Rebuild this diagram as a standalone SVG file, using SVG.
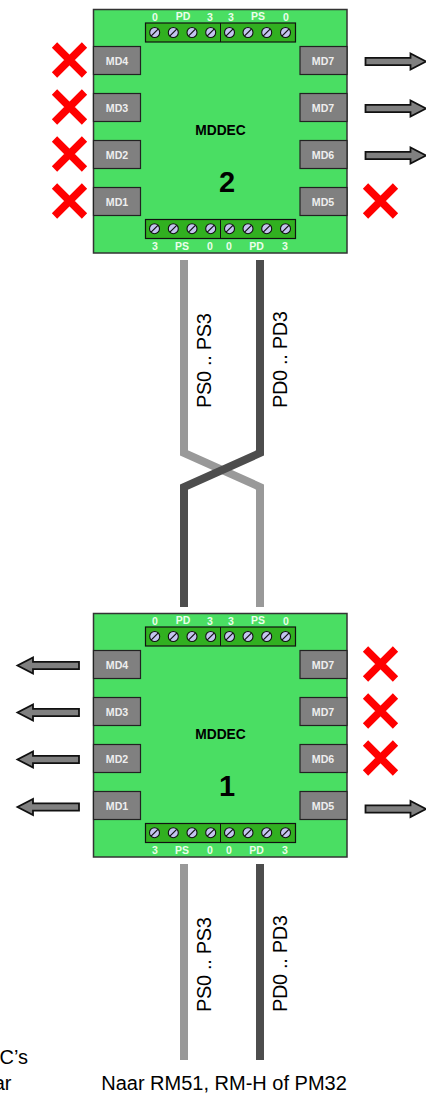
<svg xmlns="http://www.w3.org/2000/svg" width="426" height="1095" viewBox="0 0 426 1095">
<style>
text{font-family:"Liberation Sans",Arial,sans-serif}
.board{fill:#4ade63;stroke:#333;stroke-width:1.5}
.strip{fill:#31b020;stroke:#111;stroke-width:1.2}
.div{stroke:#111;stroke-width:1;fill:none}
.md{fill:#808080;stroke:#222;stroke-width:1.2}
.mdt{font-size:10.6px;font-weight:bold;fill:#eee;text-anchor:middle}
.pin{font-size:10.500px;font-weight:bold;fill:#eaffea;text-anchor:middle}
.title{font-size:13.8px;font-weight:bold;fill:#000;text-anchor:middle}
.num{font-size:29px;font-weight:bold;fill:#000;text-anchor:middle}
.wl{fill:none;stroke:#999;stroke-width:8}
.wd{fill:none;stroke:#4d4d4d;stroke-width:8}
.lab{font-size:20px;fill:#000}
.x{fill:none;stroke:#f00;stroke-width:7.5}
.ar{fill:#808080;stroke:#111;stroke-width:1.8}
</style>
<defs>
<g id="screw"><circle r="5" fill="#c4c4f0" stroke="#111" stroke-width="1.1"/><path d="M-3.4 3.4L3.4-3.4" stroke="#111" stroke-width="1.2"/></g>
<path id="cross" class="x" d="M-15-15L15 15M-15 15L15-15"/>
<path id="arr" class="ar" d="M0-3.7H45V-8L60.500 0L45 8V3.700H0Z"/>
<path id="arl" class="ar" d="M0-3.700H-46V-8L-61.500 0L-46 8V3.700H0Z"/>
</defs>
<g id="connectors">
<path class="wl" d="M184 260V453L260 487V607"/>
<path class="wd" d="M260 260V453L184 487V607"/>
<path class="wl" d="M184 864V1060"/>
<path class="wd" d="M260 864V1060"/>
</g>
<g id="mddec-2">
<rect class="board" x="93.500" y="9.500" width="253.500" height="243.500"/>
<rect class="strip" x="145.500" y="23" width="150" height="19"/><path class="div" d="M220.500 23V42"/>
<use href="#screw" x="154.700" y="32.500"/><use href="#screw" x="173.300" y="32.500"/><use href="#screw" x="192" y="32.500"/><use href="#screw" x="210.700" y="32.500"/><use href="#screw" x="229.500" y="32.500"/><use href="#screw" x="248" y="32.500"/><use href="#screw" x="266.700" y="32.500"/><use href="#screw" x="285.500" y="32.500"/>
<rect class="strip" x="145.500" y="219.500" width="150" height="19"/><path class="div" d="M220.500 219.500V238.500"/>
<use href="#screw" x="154.500" y="228.700"/><use href="#screw" x="173.300" y="228.700"/><use href="#screw" x="192" y="228.700"/><use href="#screw" x="210.700" y="228.700"/><use href="#screw" x="229.500" y="228.700"/><use href="#screw" x="248" y="228.700"/><use href="#screw" x="266.700" y="228.700"/><use href="#screw" x="285.500" y="228.700"/>
<text class="pin" x="155" y="21">0</text><text class="pin" x="183" y="20">PD</text><text class="pin" x="210" y="21">3</text><text class="pin" x="231" y="21">3</text><text class="pin" x="258" y="20">PS</text><text class="pin" x="286" y="21">0</text>
<text class="pin" x="155" y="250">3</text><text class="pin" x="182" y="250">PS</text><text class="pin" x="210" y="250">0</text><text class="pin" x="229" y="250">0</text><text class="pin" x="256.500" y="250">PD</text><text class="pin" x="285" y="250">3</text>
<rect class="md" x="93.500" y="46.500" width="47" height="28"/><text class="mdt" x="117" y="65">MD4</text>
<rect class="md" x="93.500" y="93.500" width="47" height="28"/><text class="mdt" x="117" y="112">MD3</text>
<rect class="md" x="93.500" y="140.500" width="47" height="28"/><text class="mdt" x="117" y="159">MD2</text>
<rect class="md" x="93.500" y="187.500" width="47" height="28"/><text class="mdt" x="117" y="206">MD1</text>
<rect class="md" x="300" y="46.500" width="47" height="28"/><text class="mdt" x="323" y="65">MD7</text>
<rect class="md" x="300" y="93.500" width="47" height="28"/><text class="mdt" x="323" y="112">MD7</text>
<rect class="md" x="300" y="140.500" width="47" height="28"/><text class="mdt" x="323" y="159">MD6</text>
<rect class="md" x="300" y="187.500" width="47" height="28"/><text class="mdt" x="323" y="206">MD5</text>
<text class="title" x="220.500" y="135">MDDEC</text><text class="num" x="227" y="192">2</text>
</g>
<g id="mddec-1">
<rect class="board" x="93.500" y="613.500" width="253.500" height="243.500"/>
<rect class="strip" x="145.500" y="627" width="150" height="19"/><path class="div" d="M220.500 627V646"/>
<use href="#screw" x="154.700" y="636.500"/><use href="#screw" x="173.300" y="636.500"/><use href="#screw" x="192" y="636.500"/><use href="#screw" x="210.700" y="636.500"/><use href="#screw" x="229.500" y="636.500"/><use href="#screw" x="248" y="636.500"/><use href="#screw" x="266.700" y="636.500"/><use href="#screw" x="285.500" y="636.500"/>
<rect class="strip" x="145.500" y="823.500" width="150" height="19"/><path class="div" d="M220.500 823.500V842.500"/>
<use href="#screw" x="154.500" y="832.700"/><use href="#screw" x="173.300" y="832.700"/><use href="#screw" x="192" y="832.700"/><use href="#screw" x="210.700" y="832.700"/><use href="#screw" x="229.500" y="832.700"/><use href="#screw" x="248" y="832.700"/><use href="#screw" x="266.700" y="832.700"/><use href="#screw" x="285.500" y="832.700"/>
<text class="pin" x="155" y="625">0</text><text class="pin" x="183" y="624">PD</text><text class="pin" x="210" y="625">3</text><text class="pin" x="231" y="625">3</text><text class="pin" x="258" y="624">PS</text><text class="pin" x="286" y="625">0</text>
<text class="pin" x="155" y="854">3</text><text class="pin" x="182" y="854">PS</text><text class="pin" x="210" y="854">0</text><text class="pin" x="229" y="854">0</text><text class="pin" x="256.500" y="854">PD</text><text class="pin" x="285" y="854">3</text>
<rect class="md" x="93.500" y="650.500" width="47" height="28"/><text class="mdt" x="117" y="669">MD4</text>
<rect class="md" x="93.500" y="697.500" width="47" height="28"/><text class="mdt" x="117" y="716">MD3</text>
<rect class="md" x="93.500" y="744.500" width="47" height="28"/><text class="mdt" x="117" y="763">MD2</text>
<rect class="md" x="93.500" y="791.500" width="47" height="28"/><text class="mdt" x="117" y="810">MD1</text>
<rect class="md" x="300" y="650.500" width="47" height="28"/><text class="mdt" x="323" y="669">MD7</text>
<rect class="md" x="300" y="697.500" width="47" height="28"/><text class="mdt" x="323" y="716">MD7</text>
<rect class="md" x="300" y="744.500" width="47" height="28"/><text class="mdt" x="323" y="763">MD6</text>
<rect class="md" x="300" y="791.500" width="47" height="28"/><text class="mdt" x="323" y="810">MD5</text>
<text class="title" x="220.500" y="739">MDDEC</text><text class="num" x="227" y="796">1</text>
</g>
<g id="disabled">
<use href="#cross" x="69.500" y="60"/><use href="#cross" x="69.500" y="107"/><use href="#cross" x="69.500" y="154"/><use href="#cross" x="69.500" y="201"/><use href="#cross" x="380.500" y="201"/>
<use href="#cross" x="380.500" y="664"/><use href="#cross" x="380.500" y="711"/><use href="#cross" x="380.500" y="758"/>
</g>
<g id="outputs">
<use href="#arr" x="365.500" y="61.500"/><use href="#arr" x="365.500" y="108.500"/><use href="#arr" x="365.500" y="155.500"/>
<use href="#arr" x="365.500" y="809"/>
<use href="#arl" x="79" y="665.500"/><use href="#arl" x="79" y="712.500"/><use href="#arl" x="79" y="759.500"/><use href="#arl" x="79" y="807"/>
</g>
<g id="labels">
<text class="lab" transform="translate(210.500 408) rotate(-90)" textLength="95" lengthAdjust="spacing">PS0 .. PS3</text>
<text class="lab" transform="translate(287 408) rotate(-90)" textLength="97" lengthAdjust="spacing">PD0 .. PD3</text>
<text class="lab" transform="translate(210.500 1012) rotate(-90)" textLength="95" lengthAdjust="spacing">PS0 .. PS3</text>
<text class="lab" transform="translate(287 1012) rotate(-90)" textLength="97" lengthAdjust="spacing">PD0 .. PD3</text>
<text class="lab" x="28" y="1064" text-anchor="end">C’s</text>
<text class="lab" x="11.500" y="1090" text-anchor="end">ar</text>
<text class="lab" x="224" y="1090" text-anchor="middle">Naar RM51, RM-H of PM32</text>
</g>
</svg>
